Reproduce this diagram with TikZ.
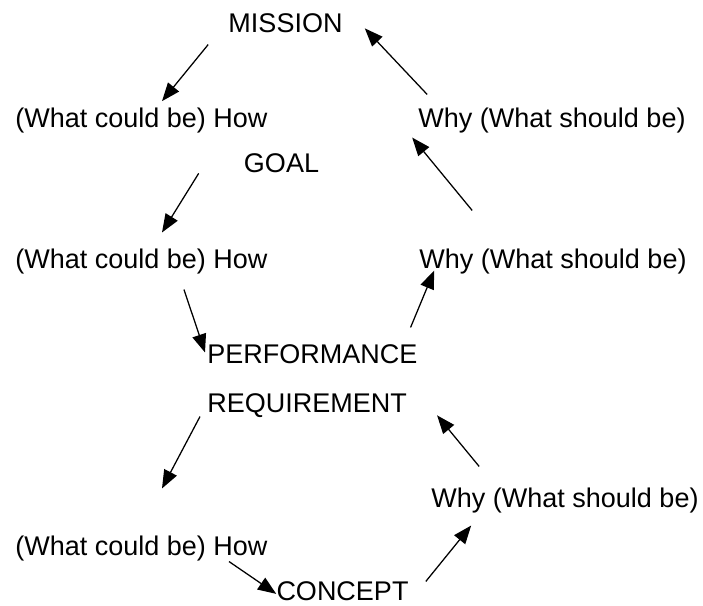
\documentclass[tikz,border=0pt]{standalone}
\usepackage{fontspec}
\setmainfont{Liberation Sans}
\usetikzlibrary{arrows.meta}

\begin{document}
\begin{tikzpicture}[x=0.025cm,y=-0.025cm,
        word/.style={inner sep=0pt,anchor=base,text height=0.73em,text depth=0.21em,font=\fontsize{19.2}{23}\selectfont},
        arr/.style={line width=0.9pt,-{Triangle[length=13pt,width=10pt]}}
    ]
    \useasboundingbox (0,0) rectangle (703,605);

    %--- nodes ---
    \node[word] (mission) at (285.5,32) {MISSION};
    \node[word] (how1)    at (141.5,127) {(What could be) How};
    \node[word] (why1)    at (552,127) {Why (What should be)};
    \node[word] (goal)    at (281.5,172) {GOAL};
    \node[word] (how2)    at (141.5,268) {(What could be) How};
    \node[word] (why2)    at (553,268) {Why (What should be)};
    \node[word,anchor=base west] (perf) at (207,363) {PERFORMANCE};
    \node[word,anchor=base west] (req)  at (207,412) {REQUIREMENT};
    \node[word] (why3)    at (565,507) {Why (What should be)};
    \node[word] (how3)    at (141.5,555) {(What could be) How};
    \node[word,text depth=0pt] (concept) at (342.5,600) {CONCEPT};

    %--- arrows ---
    \draw[arr] ([shift={(-20,9.3)}]mission.south west) -- ([shift={(20.5,-15.3)}]how1.north);
    \draw[arr] ([shift={(9,-22)}]why1.north west) -- ([shift={(22,0)}]mission.east);
    \draw[arr] ([shift={(-45,5)}]goal.west) -- ([shift={(20.5,-25)}]how2.north);
    \draw[arr] ([shift={(53,-47)}]why2.north west) -- ([shift={(-6,7.3)}]why1.south west);
    \draw[arr] ([shift={(42.5,18.3)}]how2.south) -- ([shift={(-2,0)}]perf.north west);
    \draw[arr] ([shift={(-7,-25)}]perf.north east) -- ([shift={(15,-0.7)}]why2.south west);
    \draw[arr] ([shift={(-7,1.3)}]req.south west) -- ([shift={(20.5,-56)}]how3.north);
    \draw[arr] ([shift={(48,-30)}]why3.north west) -- ([shift={(30,7)}]req.east);
    \draw[arr] ([shift={(87.5,3.3)}]how3.south) -- ([shift={(0,-1)}]concept.west);
    \draw[arr] ([shift={(17,-8)}]concept.north east) -- ([shift={(40,15.3)}]why3.south west);
\end{tikzpicture}
\end{document}
